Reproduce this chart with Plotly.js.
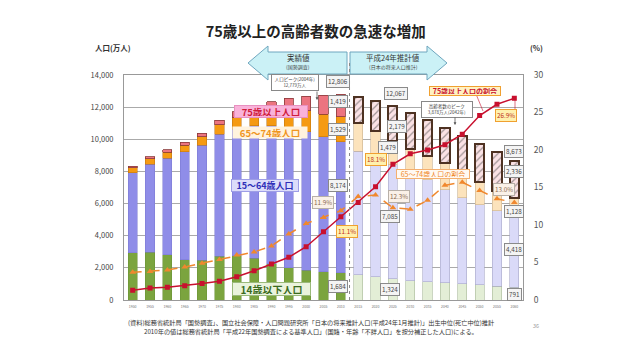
<!DOCTYPE html>
<html><head><meta charset="utf-8">
<script src="https://cdn.plot.ly/plotly-3.0.1.min.js"></script>
<style>html,body{margin:0;padding:0;background:#fff}#chart{width:638px;height:359px}</style>
</head><body><div id="chart"></div>
<script>
// ---- data (万人 / %) ----
const years = ['1950','1955','1960','1965','1970','1975','1980','1985','1990','1995','2000','2005','2010',
               '2015','2020','2025','2030','2035','2040','2045','2050','2055','2060'];
const pop0_14   = [2943,2980,2807,2517,2482,2722,2751,2603,2249,2001,1847,1752,1684,1583,1457,1324,1204,1129,1073,1012,939,861,791];
const pop15_64  = [4966,5473,6000,6693,7157,7581,7883,8251,8590,8716,8622,8409,8174,7682,7341,7085,6773,6343,5787,5353,5001,4706,4418];
const pop65_74  = [305,336,372,429,510,603,699,776,892,1109,1301,1407,1529,1749,1734,1479,1407,1495,1645,1600,1413,1238,1128];
const pop75plus = [107,139,163,189,224,284,366,471,597,717,901,1164,1419,1646,1879,2179,2278,2245,2223,2257,2385,2401,2336];
const share75plus = [1.3,1.6,1.7,1.9,2.2,2.5,3.1,3.9,4.8,5.7,7.1,9.1,11.1,13.0,15.1,18.1,19.5,20.0,20.7,22.1,24.6,26.1,26.9];
const share65_74  = [3.7,3.8,4.0,4.4,4.9,5.4,6.0,6.4,7.2,8.8,10.2,11.0,11.9,13.8,14.0,12.3,12.1,13.3,15.3,15.7,14.6,13.5,13.0];
const leftTicks  = [0,2000,4000,6000,8000,10000,12000,14000];
const rightTicks = [0,5,10,15,20,25,30];
const firstProjection = 13; // index of 2015
const labelledYears = [12, 15, 22]; // 2010, 2025, 2060

// ---- helpers ----
const isProj = i => i >= firstProjection;
const col = (h, p) => years.map((_, i) => isProj(i) ? p : h);
const totals = years.map((_, i) => pop0_14[i] + pop15_64[i] + pop65_74[i] + pop75plus[i]);
const fmt = v => v.toLocaleString('en-US');
const FONT = '"Noto Sans CJK JP", "Noto Sans", sans-serif';
// pixel -> paper conversion for decorations (plot area: x 124..523, y 75..300)
const PL = 124, PR = 523, PT = 75, PB = 300;
const px = x => (x - PL) / (PR - PL);
const py = y => (PB - y) / (PB - PT);

const barLine = (h, p, wh, wp) => ({color: col(h, p), width: col(wh, wp)});

const traces = [
  {type: 'bar', name: '14歳以下人口', x: years, y: pop0_14,
   marker: {color: col('#7BA43E', '#E3EED6'), line: barLine('#6A8F35', '#A9B99A', 0.5, 0.6)}},
  {type: 'bar', name: '15～64歳人口', x: years, y: pop15_64,
   marker: {color: col('#8F8DE8', '#DADAF8'), line: barLine('#7A78D0', '#A8A8C8', 0.5, 0.6)}},
  {type: 'bar', name: '65～74歳人口', x: years, y: pop65_74,
   marker: {color: col('#F59A12', '#FCE3BC'), line: barLine('#B9700E', '#C8B090', 0.5, 0.6)}},
  {type: 'bar', name: '75歳以上人口', x: years, y: pop75plus,
   marker: {color: col('#EC7480', '#FBE2E5'),
            pattern: {shape: col('', '/'), fgcolor: '#D0939C', fillmode: 'overlay', size: 5, solidity: 0.25},
            line: barLine('#8A3A3A', '#4E3222', 0.8, 2)}},
  {type: 'scatter', mode: 'lines+markers', name: '65～74歳人口の割合', x: years, y: share65_74, yaxis: 'y2',
   line: {color: '#F0882E', width: 1.5, dash: 'dash'},
   marker: {symbol: 'triangle-up', size: 6, color: '#F0882E'}},
  {type: 'scatter', mode: 'lines+markers', name: '75歳以上人口の割合', x: years, y: share75plus, yaxis: 'y2',
   line: {color: '#C8102E', width: 1.5},
   marker: {symbol: 'square', size: 5, color: '#C8102E'}}
];

// ---- annotations ----
const ann = [];
function paperText(text, x, y, o) {
  ann.push(Object.assign({xref: 'paper', yref: 'paper', x: px(x), y: py(y), text: text,
    showarrow: false, xanchor: 'center', yanchor: 'middle', font: {family: FONT, size: 7, color: '#333'}}, o || {}));
}
const boxStyle = {bgcolor: '#F4F4F4', bordercolor: '#8A8A8A', borderwidth: 1, borderpad: 1, font: {family: FONT, size: 6.3, color: '#444'}};
function valLabel(i, y, text, xs, ys, yref, style) {
  ann.push(Object.assign({xref: 'x', yref: yref || 'y', x: i, y: y, xshift: xs, yshift: ys, text: text,
    showarrow: false, xanchor: 'center', yanchor: 'middle'}, style || boxStyle));
}
// population value labels
const popShift = {12: [[-3,12.5],[-3,3.6],[-3,0],[-3,22],[-3,0]],
                  15: [[3,13],[4,-3],[-5,5],[-3,5],[-3,0]],
                  22: [[0,9.6],[0,8],[0,-4],[0,2],[0,-1]]};
labelledYears.forEach(i => {
  const s = popShift[i];
  const b1 = pop0_14[i], b2 = b1 + pop15_64[i], b3 = b2 + pop65_74[i], b4 = totals[i];
  valLabel(i, b4, fmt(b4), s[0][0], s[0][1]);
  valLabel(i, (b3 + b4) / 2, fmt(pop75plus[i]), s[1][0], s[1][1]);
  valLabel(i, (b2 + b3) / 2, fmt(pop65_74[i]), s[2][0], s[2][1]);
  valLabel(i, (b1 + b2) / 2, fmt(pop15_64[i]), s[3][0], s[3][1]);
  valLabel(i, b1 / 2, fmt(pop0_14[i]), s[4][0], s[4][1]);
});
// percentage labels
const pct75Style = {bgcolor: '#FFF1AE', bordercolor: '#F0A030', borderwidth: 1, borderpad: 1, font: {family: FONT, size: 6.3, color: '#C0301A'}};
const pct65Style = {bgcolor: '#FAF1E8', bordercolor: '#B8B0A8', borderwidth: 1, borderpad: 1, font: {family: FONT, size: 6.3, color: '#8A6A50'}};
valLabel(12, share65_74[12], share65_74[12].toFixed(1) + '%', -18, 8, 'y2', pct65Style);
valLabel(12, share75plus[12], share75plus[12].toFixed(1) + '%', 6, -15, 'y2', pct75Style);
valLabel(15, share75plus[15], share75plus[15].toFixed(1) + '%', -17, 5, 'y2', pct75Style);
valLabel(15, share65_74[15], share65_74[15].toFixed(1) + '%', 6, 11, 'y2', pct65Style);
valLabel(22, share75plus[22], share75plus[22].toFixed(1) + '%', -8, -17, 'y2', pct75Style);
valLabel(22, share65_74[22], share65_74[22].toFixed(1) + '%', -10, 13.5, 'y2', pct65Style);

// category labels
paperText('<b>75歳以上人口</b>', 271, 112, {bgcolor: '#F9B2DA', bordercolor: '#E890C0', borderwidth: 1, width: 70, height: 9,
  font: {family: FONT, size: 9.5, color: '#D01C3C'}});
paperText('<b>65～74歳人口</b>', 270, 132, {bgcolor: '#FFF3DE', width: 72, height: 9,
  font: {family: FONT, size: 9.5, color: '#F0961E'}});
paperText('<b>15～64歳人口</b>', 265, 185.5, {bgcolor: '#DCDCFA', bordercolor: '#9E9EE6', borderwidth: 1, width: 64, height: 9,
  font: {family: FONT, size: 9, color: '#2F2FB8'}});
paperText('<b>14歳以下人口</b>', 271, 289, {bgcolor: '#EAF3DC', bordercolor: '#9AB97A', borderwidth: 1, width: 75, height: 10,
  font: {family: FONT, size: 10, color: '#3A6B1E'}});
paperText('<b>75歳以上人口の割合</b>', 465, 90.5, {bgcolor: '#FFF2C2', bordercolor: '#F0A030', borderwidth: 1, width: 68, height: 6,
  font: {family: FONT, size: 7, color: '#C8102E'}});
paperText('65～74歳人口の割合', 433, 173.5, {bgcolor: '#FFF9F2', bordercolor: '#F4B070', borderwidth: 1, width: 70, height: 6,
  font: {family: FONT, size: 7, color: '#F08A2C'}});
paperText('人口ピーク(2004年)<br>12,779万人', 295, 82.5, {bgcolor: '#FFFFFF', bordercolor: '#888', borderwidth: 1, width: 44,
  font: {family: FONT, size: 4.5, color: '#444'}});
paperText('高齢者数のピーク<br>3,878万人(2042年)', 447, 109.5, {bgcolor: '#FFFFFF', bordercolor: '#888', borderwidth: 1, width: 48,
  font: {family: FONT, size: 4.5, color: '#444'}});
// arrow texts
paperText('実績値', 298, 58, {font: {family: FONT, size: 7.5, color: '#333'}});
paperText('(国勢調査)', 298, 67.5, {font: {family: FONT, size: 5, color: '#444'}});
paperText('平成24年推計値', 393, 58, {font: {family: FONT, size: 7.5, color: '#333'}});
paperText('(日本の将来人口推計)', 393, 67.5, {font: {family: FONT, size: 5, color: '#444'}});
// axis titles
paperText('<b>人口(万人)</b>', 113, 48, {font: {family: FONT, size: 7.5, color: '#333'}});
paperText('<b>(%)</b>', 536, 48, {font: {family: FONT, size: 7.5, color: '#333'}});
// footer
paperText('(資料)総務省統計局「国勢調査」、国立社会保障・人口問題研究所「日本の将来推計人口(平成24年1月推計)」出生中位(死亡中位)推計', 311, 322,
  {font: {family: FONT, size: 6.2, color: '#333'}});
paperText('2010年の値は総務省統計局「平成22年国勢調査による基準人口」(国籍・年齢「不詳人口」を按分補正した人口)による。', 311, 331,
  {font: {family: FONT, size: 6.2, color: '#333'}});
paperText('36', 536, 326, {font: {family: FONT, size: 5.5, color: '#999'}});
// small arrows
ann.push({xref: 'paper', yref: 'paper', x: px(455), y: py(125), ax: 0, ay: -9, text: '', showarrow: true,
  arrowhead: 2, arrowsize: 0.7, arrowwidth: 0.8, arrowcolor: '#555'});
ann.push({xref: 'paper', yref: 'paper', x: px(317), y: py(100), ax: 0, ay: -10, text: '', showarrow: true,
  arrowhead: 2, arrowsize: 0.7, arrowwidth: 0.8, arrowcolor: '#555'});

// ---- shapes (decorations) ----
const pathOf = pts => 'M' + pts.map(p => px(p[0]) + ',' + py(p[1])).join(' L') + ' Z';
const shapes = [
  {type: 'path', xref: 'paper', yref: 'paper', layer: 'above',
   path: pathOf([[248,63],[268,46],[268,52],[347,52],[347,74],[268,74],[268,80]]),
   fillcolor: '#CBF1F6', line: {color: '#6FA6BE', width: 1}},
  {type: 'path', xref: 'paper', yref: 'paper', layer: 'above',
   path: pathOf([[350,52],[427,52],[427,46],[447,63],[427,80],[427,74],[350,74]]),
   fillcolor: '#CBF1F6', line: {color: '#6FA6BE', width: 1}},
  {type: 'line', xref: 'x', yref: 'paper', x0: 12.5, x1: 12.5, y0: 0, y1: py(62),
   line: {color: '#888', width: 1, dash: 'dot'}},
  {type: 'line', xref: 'paper', yref: 'paper', x0: px(476), y0: py(94), x1: px(483), y1: py(111),
   line: {color: '#C8102E', width: 0.6}},
  {type: 'line', xref: 'paper', yref: 'paper', x0: px(515), y0: py(110), x1: px(515), y1: py(99),
   line: {color: '#C8102E', width: 0.6}}
];

const layout = {
  width: 638, height: 359,
  margin: {l: PL, r: 638 - PR, t: PT, b: 359 - PB, pad: 0},
  paper_bgcolor: '#fff', plot_bgcolor: '#fff',
  font: {family: FONT, color: '#333'},
  title: {text: '<b>75歳以上の高齢者数の急速な増加</b>', x: 0.495, xanchor: 'center',
          y: 1 - 32 / 359, yref: 'container', yanchor: 'middle',
          font: {family: FONT, size: 14.5, color: '#222'}},
  showlegend: false,
  barmode: 'stack', bargap: 0.47,
  xaxis: {type: 'category', range: [-0.5, 22.5], showgrid: false, showline: true, linecolor: '#999', linewidth: 1,
          mirror: true, ticks: 'outside', ticklen: 3, tickcolor: 'rgba(0,0,0,0)', tickangle: 0,
          tickfont: {family: FONT, size: 3.5, color: '#777'}},
  yaxis: {range: [0, 14000], tickvals: leftTicks, tickformat: ',d', showgrid: true, gridcolor: '#AAAAAA', gridwidth: 1,
          zeroline: false, showline: true, linecolor: '#999', mirror: true,
          ticks: 'outside', ticklen: 8, tickcolor: 'rgba(0,0,0,0)',
          tickfont: {family: FONT, size: 7.5, color: '#444'}},
  yaxis2: {overlaying: 'y', side: 'right', range: [0, 30], tickvals: rightTicks, showgrid: false, zeroline: false,
           showline: false, ticks: 'outside', ticklen: 8, tickcolor: 'rgba(0,0,0,0)',
           tickfont: {family: FONT, size: 8.5, color: '#555'}},
  annotations: ann,
  shapes: shapes
};

Plotly.newPlot('chart', traces, layout, {displayModeBar: false, staticPlot: true});
</script>
</body></html>
